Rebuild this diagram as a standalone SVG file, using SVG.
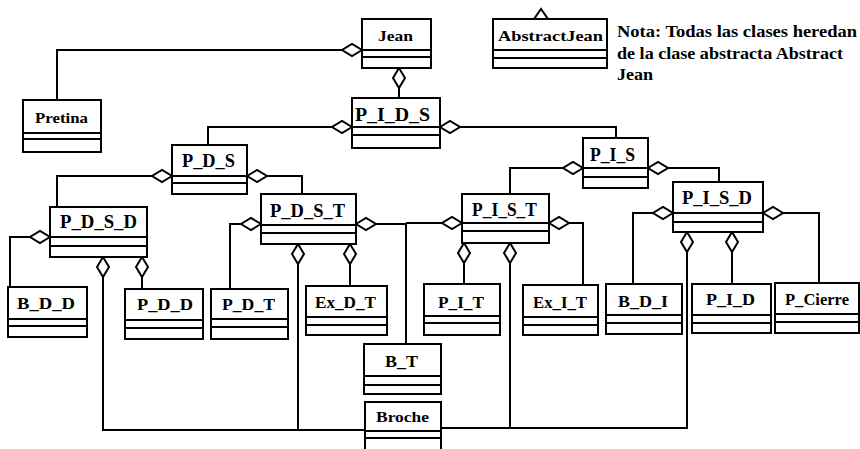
<svg xmlns="http://www.w3.org/2000/svg" width="860" height="449" viewBox="0 0 860 449">
<style>
.box{fill:#fff;stroke:#000;stroke-width:2}
.dv{stroke:#000;stroke-width:2}
.ln{fill:none;stroke:#000;stroke-width:2;marker-start:url(#dia)}
.pl{fill:none;stroke:#000;stroke-width:2}
.t{font-family:"Liberation Serif","Times New Roman",serif;font-weight:bold;fill:#000}
.s15{font-size:15px}
.s17{font-size:17px}
.s18{font-size:18px}
</style>
<defs>
<marker id="dia" markerUnits="userSpaceOnUse" markerWidth="24" markerHeight="16" refX="1" refY="8" orient="auto" viewBox="0 0 24 16" overflow="visible">
<path d="M1,8 L11,2 L21,8 L11,14 Z" fill="#fff" stroke="#000" stroke-width="2"/>
</marker>
</defs>
<rect width="860" height="449" fill="#fff"/>

<g id="connectors">
<path class="ln" d="M362,50 H57 V100"/>
<path class="ln" d="M399,68 V98"/>
<path class="ln" d="M352,127 H208 V145"/>
<path class="ln" d="M440,127 H616 V138"/>
<path class="ln" d="M172,176 H57 V207"/>
<path class="ln" d="M247,176 H302 V194"/>
<path class="ln" d="M583,168 H510 V194"/>
<path class="ln" d="M648,168 H719 V182"/>
<path class="ln" d="M50,237 H10 V287"/>
<path class="ln" d="M142,257 V289"/>
<path class="ln" d="M103,257 V430 H365"/>
<path class="ln" d="M261,224 H230 V289"/>
<path class="ln" d="M350,244 V286"/>
<path class="ln" d="M298,244 V430"/>
<path class="ln" d="M356,224 H406 V344"/>
<path class="ln" d="M462,223 H406"/>
<path class="ln" d="M464,243 V284"/>
<path class="ln" d="M510,243 V428 H441"/>
<path class="ln" d="M549,223 H583 V285"/>
<path class="ln" d="M673,213 H633 V284"/>
<path class="ln" d="M763,213 H819 V283"/>
<path class="ln" d="M732,232 V284"/>
<path class="ln" d="M687,232 V428 H510"/>
</g>

<g id="Jean">
<rect class="box" x="362" y="19" width="69" height="49"/>
<line class="dv" x1="362" y1="50" x2="431" y2="50"/>
<line class="dv" x1="362" y1="57" x2="431" y2="57"/>
<text class="t s15" x="378" y="41" textLength="35" lengthAdjust="spacingAndGlyphs">Jean</text>
</g>

<g id="AbstractJean">
<rect class="box" x="493" y="19" width="114" height="49"/>
<line class="dv" x1="493" y1="50" x2="607" y2="50"/>
<line class="dv" x1="493" y1="58" x2="607" y2="58"/>
<polygon points="534,19 541,9 548,19" fill="#fff" stroke="#000" stroke-width="2"/>
<text class="t s15" x="498" y="41" textLength="105" lengthAdjust="spacingAndGlyphs">AbstractJean</text>
</g>

<g id="nota">
<text class="t s17" x="617" y="37" textLength="240" lengthAdjust="spacingAndGlyphs">Nota: Todas las clases heredan</text>
<text class="t s17" x="617" y="59" textLength="226" lengthAdjust="spacingAndGlyphs">de la clase abstracta Abstract</text>
<text class="t s17" x="617" y="80" textLength="36" lengthAdjust="spacingAndGlyphs">Jean</text>
</g>

<g id="Pretina">
<rect class="box" x="23" y="100" width="78" height="52"/>
<line class="dv" x1="23" y1="133" x2="101" y2="133"/>
<line class="dv" x1="23" y1="139" x2="101" y2="139"/>
<text class="t s15" x="35" y="123" textLength="53" lengthAdjust="spacingAndGlyphs">Pretina</text>
</g>

<g id="P_I_D_S">
<rect class="box" x="352" y="98" width="88" height="50"/>
<line class="dv" x1="352" y1="127" x2="440" y2="127"/>
<line class="dv" x1="352" y1="135" x2="440" y2="135"/>
<text class="t s18" x="355" y="121" textLength="75" lengthAdjust="spacingAndGlyphs">P_I_D_S</text>
</g>

<g id="P_D_S">
<rect class="box" x="172" y="145" width="75" height="49"/>
<line class="dv" x1="172" y1="176" x2="247" y2="176"/>
<line class="dv" x1="172" y1="183" x2="247" y2="183"/>
<text class="t s18" x="182" y="167" textLength="53" lengthAdjust="spacingAndGlyphs">P_D_S</text>
</g>

<g id="P_I_S">
<rect class="box" x="583" y="138" width="65" height="50"/>
<line class="dv" x1="583" y1="168" x2="648" y2="168"/>
<line class="dv" x1="583" y1="177" x2="648" y2="177"/>
<text class="t s18" x="590" y="161" textLength="45" lengthAdjust="spacingAndGlyphs">P_I_S</text>
</g>

<g id="P_D_S_D">
<rect class="box" x="50" y="207" width="97" height="50"/>
<line class="dv" x1="50" y1="237" x2="147" y2="237"/>
<line class="dv" x1="50" y1="246" x2="147" y2="246"/>
<text class="t s18" x="60" y="228" textLength="77" lengthAdjust="spacingAndGlyphs">P_D_S_D</text>
</g>

<g id="P_D_S_T">
<rect class="box" x="261" y="194" width="95" height="50"/>
<line class="dv" x1="261" y1="225" x2="356" y2="225"/>
<line class="dv" x1="261" y1="233" x2="356" y2="233"/>
<text class="t s18" x="270" y="217" textLength="75" lengthAdjust="spacingAndGlyphs">P_D_S_T</text>
</g>

<g id="P_I_S_T">
<rect class="box" x="462" y="194" width="87" height="49"/>
<line class="dv" x1="462" y1="223" x2="549" y2="223"/>
<line class="dv" x1="462" y1="231" x2="549" y2="231"/>
<text class="t s18" x="472" y="216" textLength="65" lengthAdjust="spacingAndGlyphs">P_I_S_T</text>
</g>

<g id="P_I_S_D">
<rect class="box" x="673" y="182" width="90" height="50"/>
<line class="dv" x1="673" y1="213" x2="763" y2="213"/>
<line class="dv" x1="673" y1="222" x2="763" y2="222"/>
<text class="t s18" x="682" y="204" textLength="70" lengthAdjust="spacingAndGlyphs">P_I_S_D</text>
</g>

<g id="B_D_D">
<rect class="box" x="8" y="287" width="79" height="50"/>
<line class="dv" x1="8" y1="319" x2="87" y2="319"/>
<line class="dv" x1="8" y1="326" x2="87" y2="326"/>
<text class="t s17" x="17" y="309" textLength="58" lengthAdjust="spacingAndGlyphs">B_D_D</text>
</g>

<g id="P_D_D">
<rect class="box" x="125" y="289" width="78" height="50"/>
<line class="dv" x1="125" y1="320" x2="203" y2="320"/>
<line class="dv" x1="125" y1="328" x2="203" y2="328"/>
<text class="t s17" x="137" y="310" textLength="56" lengthAdjust="spacingAndGlyphs">P_D_D</text>
</g>

<g id="P_D_T">
<rect class="box" x="211" y="289" width="77" height="50"/>
<line class="dv" x1="211" y1="319" x2="288" y2="319"/>
<line class="dv" x1="211" y1="327" x2="288" y2="327"/>
<text class="t s17" x="222" y="310" textLength="53" lengthAdjust="spacingAndGlyphs">P_D_T</text>
</g>

<g id="Ex_D_T">
<rect class="box" x="306" y="286" width="81" height="49"/>
<line class="dv" x1="306" y1="317" x2="387" y2="317"/>
<line class="dv" x1="306" y1="325" x2="387" y2="325"/>
<text class="t s17" x="315" y="308" textLength="61" lengthAdjust="spacingAndGlyphs">Ex_D_T</text>
</g>

<g id="P_I_T">
<rect class="box" x="424" y="284" width="76" height="51"/>
<line class="dv" x1="424" y1="316" x2="500" y2="316"/>
<line class="dv" x1="424" y1="323" x2="500" y2="323"/>
<text class="t s17" x="438" y="308" textLength="46" lengthAdjust="spacingAndGlyphs">P_I_T</text>
</g>

<g id="Ex_I_T">
<rect class="box" x="523" y="285" width="75" height="50"/>
<line class="dv" x1="523" y1="317" x2="598" y2="317"/>
<line class="dv" x1="523" y1="325" x2="598" y2="325"/>
<text class="t s17" x="533" y="308" textLength="54" lengthAdjust="spacingAndGlyphs">Ex_I_T</text>
</g>

<g id="B_D_I">
<rect class="box" x="606" y="284" width="76" height="50"/>
<line class="dv" x1="606" y1="315" x2="682" y2="315"/>
<line class="dv" x1="606" y1="323" x2="682" y2="323"/>
<text class="t s17" x="618" y="307" textLength="50" lengthAdjust="spacingAndGlyphs">B_D_I</text>
</g>

<g id="P_I_D">
<rect class="box" x="692" y="284" width="79" height="49"/>
<line class="dv" x1="692" y1="315" x2="771" y2="315"/>
<line class="dv" x1="692" y1="323" x2="771" y2="323"/>
<text class="t s17" x="706" y="305" textLength="49" lengthAdjust="spacingAndGlyphs">P_I_D</text>
</g>

<g id="P_Cierre">
<rect class="box" x="775" y="283" width="84" height="50"/>
<line class="dv" x1="775" y1="314" x2="859" y2="314"/>
<line class="dv" x1="775" y1="322" x2="859" y2="322"/>
<text class="t s17" x="785" y="305" textLength="64" lengthAdjust="spacingAndGlyphs">P_Cierre</text>
</g>

<g id="B_T">
<rect class="box" x="364" y="344" width="77" height="50"/>
<line class="dv" x1="364" y1="376" x2="441" y2="376"/>
<line class="dv" x1="364" y1="385" x2="441" y2="385"/>
<text class="t s17" x="385" y="367" textLength="33" lengthAdjust="spacingAndGlyphs">B_T</text>
</g>

<g id="Broche">
<rect class="box" x="365" y="402" width="76" height="52"/>
<line class="dv" x1="365" y1="431" x2="441" y2="431"/>
<line class="dv" x1="365" y1="438" x2="441" y2="438"/>
<text class="t s15" x="376" y="422" textLength="53" lengthAdjust="spacingAndGlyphs">Broche</text>
</g>
</svg>
